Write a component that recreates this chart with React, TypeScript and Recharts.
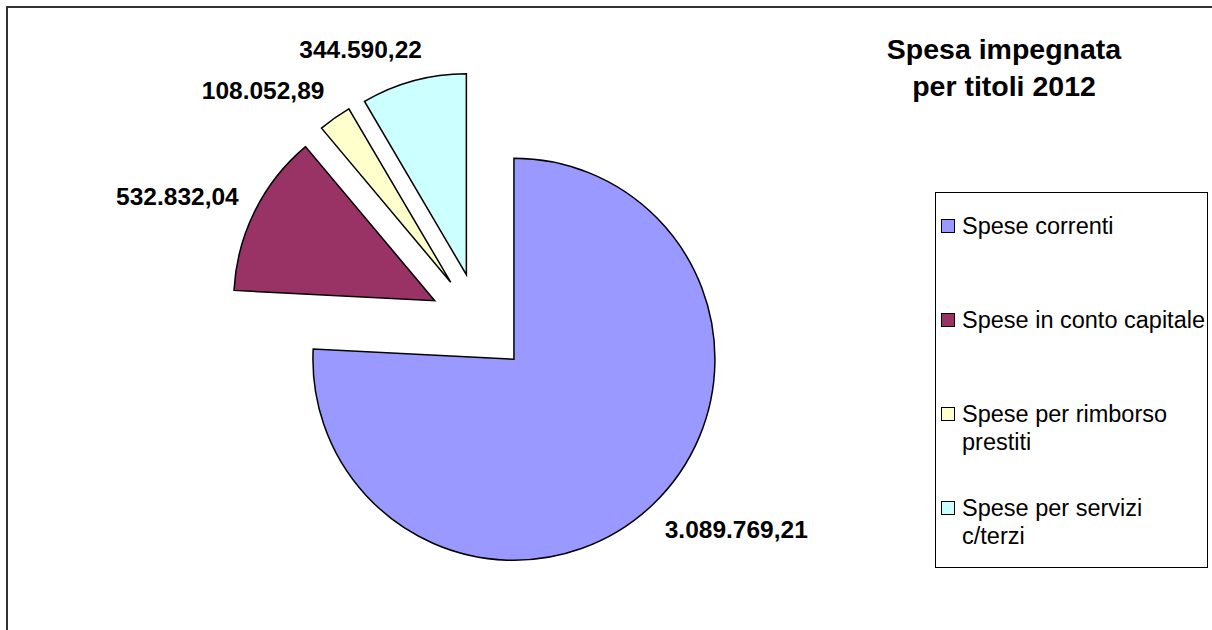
import React from 'react';
import { PieChart, Pie, Cell, Sector } from 'recharts';

// Dati: spesa impegnata per titoli 2012
const categories = [
    'Spese correnti',
    'Spese in conto capitale',
    'Spese per rimborso prestiti',
    'Spese per servizi c/terzi'
];
const values = [3089769.21, 532832.04, 108052.89, 344590.22];
const sliceColors = ['#9999FF', '#993366', '#FFFFCC', '#CCFFFF'];
const titleLines = ['Spesa impegnata', 'per titoli 2012'];

const data = categories.map((name, i) => ({ name, value: values[i] }));

const EXPLODE = 50;
const LABEL_FONT = 24.5;
const RADIAN = Math.PI / 180;

// formato italiano: 3.089.769,21
const formatIt = (v: number) => {
    const [int, dec] = v.toFixed(2).split('.');
    return int.replace(/\B(?=(\d{3})+(?!\d))/g, '.') + ',' + dec;
};

const textWidth = (s: string, fs: number) =>
    s.split('').reduce((w, ch) => w + (/\d/.test(ch) ? 0.556 : 0.278), 0) * fs;

const clamp = (v: number, lo: number, hi: number) => Math.max(lo, Math.min(hi, v));

const ExplodedSector = (props: any) => {
    const { cx, cy, midAngle, innerRadius, outerRadius, startAngle, endAngle, fill } = props;
    const dx = EXPLODE * Math.cos(-midAngle * RADIAN);
    const dy = EXPLODE * Math.sin(-midAngle * RADIAN);
    return (
        <Sector
            cx={cx + dx}
            cy={cy + dy}
            innerRadius={innerRadius}
            outerRadius={outerRadius}
            startAngle={startAngle}
            endAngle={endAngle}
            fill={fill}
            stroke="#000"
            strokeWidth={1.5}
        />
    );
};

const renderLabel = (props: any) => {
    const { cx, cy, midAngle, outerRadius, value } = props;
    const dirX = Math.cos(-midAngle * RADIAN);
    const dirY = Math.sin(-midAngle * RADIAN);
    const text = formatIt(value);
    const w = textWidth(text, LABEL_FONT);
    const r = outerRadius + 18;
    const px = cx + EXPLODE * dirX + r * dirX;
    const py = cy + EXPLODE * dirY + r * dirY;
    const x = px + clamp(3 * dirX, -1, 1) * w / 2;
    const y = py + clamp(1.3 * dirY, -1.2, 1.2) * 12;
    return (
        <text
            x={x}
            y={y}
            textAnchor="middle"
            dominantBaseline="central"
            fill="#000"
            fontSize={LABEL_FONT}
            fontWeight="bold"
            fontFamily="'Liberation Sans', Arial, sans-serif"
        >
            {text}
        </text>
    );
};

const App: React.FC = () => {
    return (
        <div
            style={{
                position: 'fixed',
                left: 0,
                top: 0,
                right: 0,
                bottom: 0,
                overflow: 'hidden',
                background: '#fff',
                fontFamily: "'Liberation Sans', Arial, sans-serif"
            }}
        >
            {/* bordo area grafico (solo lati visibili) */}
            <div
                style={{
                    position: 'absolute',
                    left: 6,
                    top: 6,
                    right: -40,
                    bottom: -40,
                    borderTop: '2px solid #333',
                    borderLeft: '2px solid #333'
                }}
            />
            <div style={{ position: 'absolute', left: 0, top: 0 }}>
                <PieChart width={930} height={620} margin={{ top: 0, right: 0, bottom: 0, left: 0 }}>
                    <Pie
                        data={data}
                        dataKey="value"
                        nameKey="name"
                        cx={479.5}
                        cy={323}
                        outerRadius={201}
                        startAngle={90}
                        endAngle={-270}
                        shape={ExplodedSector}
                        label={renderLabel}
                        labelLine={false}
                        isAnimationActive={false}
                    >
                        {data.map((_e, i) => (
                            <Cell key={`cell-${i}`} fill={sliceColors[i]} />
                        ))}
                    </Pie>
                </PieChart>
            </div>

            {/* titolo */}
            <div
                style={{
                    position: 'absolute',
                    left: 854,
                    top: 31,
                    width: 300,
                    textAlign: 'center',
                    fontSize: 28.5,
                    fontWeight: 'bold',
                    lineHeight: '37px',
                    color: '#000'
                }}
            >
                {titleLines.map((t) => (
                    <div key={t}>{t}</div>
                ))}
            </div>

            {/* legenda */}
            <div
                style={{
                    position: 'absolute',
                    left: 935,
                    top: 192,
                    width: 273,
                    height: 376,
                    boxSizing: 'border-box',
                    border: '1px solid #000',
                    background: '#fff'
                }}
            >
                {categories.map((name, i) => (
                    <div
                        key={name}
                        style={{
                            height: 94,
                            boxSizing: 'border-box',
                            paddingTop: 19,
                            paddingLeft: 5,
                            display: 'flex',
                            alignItems: 'flex-start'
                        }}
                    >
                        <div
                            style={{
                                width: 14,
                                height: 14,
                                marginTop: 7,
                                marginRight: 7,
                                flex: '0 0 auto',
                                boxSizing: 'border-box',
                                border: '1.5px solid #000',
                                background: sliceColors[i]
                            }}
                        />
                        <div style={{ width: 244, fontSize: 23.5, lineHeight: '28px', color: '#000' }}>
                            {name}
                        </div>
                    </div>
                ))}
            </div>
        </div>
    );
};

export default App;
